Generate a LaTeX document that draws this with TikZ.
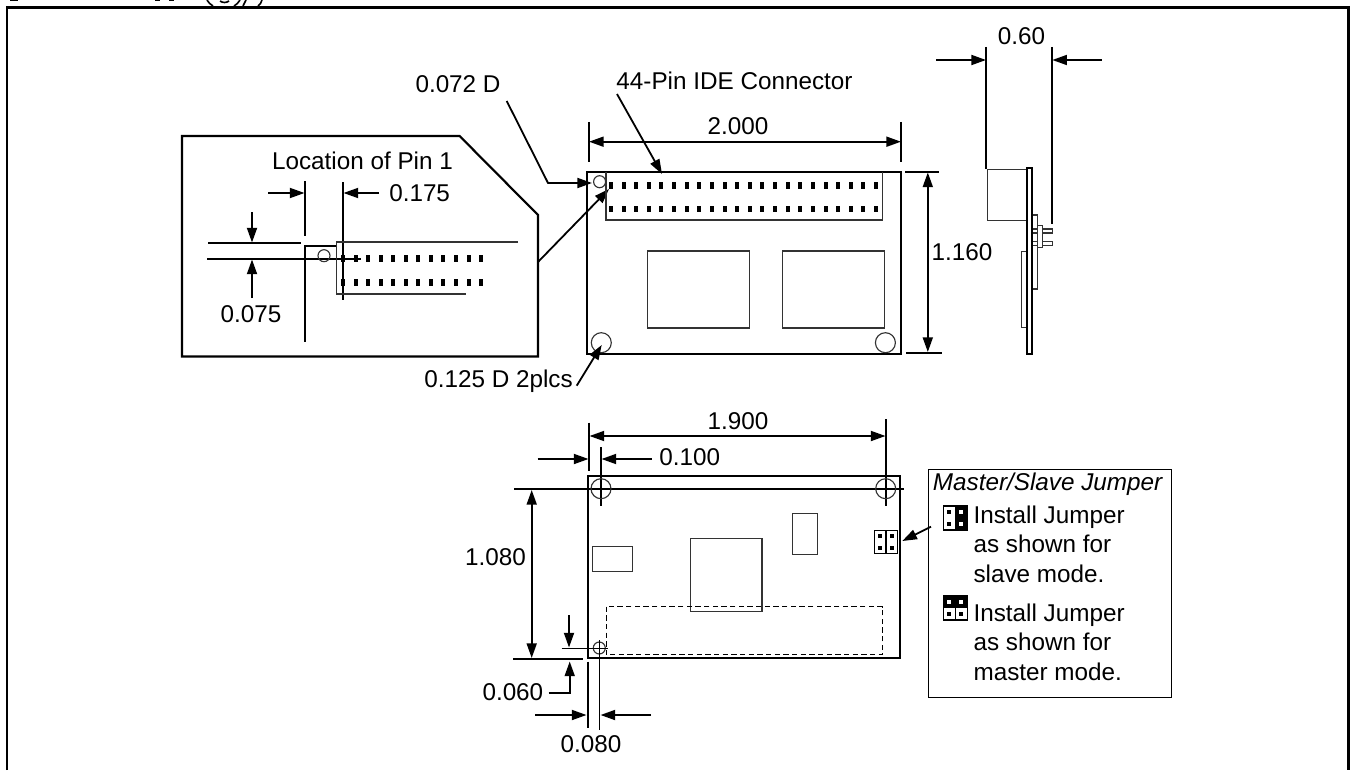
\documentclass[tikz,border=0pt]{standalone}
\usepackage{fontspec}
\setmainfont{Liberation Sans}
\usetikzlibrary{arrows.meta,calc}
\tikzset{
dim/.style={black,line width=1.35pt},
leader/.style={dim,-{Triangle[length=11pt,width=7.5pt]}},
span/.style={dim,{Triangle[length=11pt,width=7.5pt]}-{Triangle[length=11pt,width=7.5pt]}},
plate/.style={draw=black,line width=1.6pt},
part/.style={draw=black!80,line width=0.85pt},
lbl/.style={font=\fontsize{18.2}{22}\selectfont,text=black,inner sep=0pt},
}
% one pin of a connector, at pixel position #1
\newcommand{\pinmark}[2][black]{\fill[#1] ($#2+(-2,-3.4)$) rectangle ($#2+(2,3.4)$);}
\begin{document}
\begin{tikzpicture}[x=0.75pt,y=-0.75pt]
\useasboundingbox (0,0) rectangle (1351,770);
% cut off heading above the frame
\draw[line width=1.2pt] (207,0) .. controls (209,3) and (211,5) .. (213,6);
\draw[line width=1.2pt] (220,1) .. controls (223,3) and (226,3) .. (229,1);
\draw[line width=1.2pt] (234,6) .. controls (236,5) and (238,3) .. (240,0);
\draw[line width=1.2pt] (246,0) -- (243,6);
\draw[line width=1.2pt] (258,6) .. controls (260,5) and (261,3) .. (262,0);
\draw[line width=1pt] (10,0.5) -- (18,0.5) (155,0.5) -- (160,0.5) (169,0.5) -- (174,0.5);
% outer frame
\draw[plate,line width=1.75pt] (7.3,770) -- (7.3,7.5) -- (1348.5,7.5) -- (1348.5,770);

% inset
\draw[plate] (182,136) -- (459.6,136) -- (538,215) -- (538,356.5) -- (182,356.5) -- cycle;
\node[lbl] (pintitle) at (362.5,160.5) {Location of Pin 1};
\draw[dim] (305,181) -- (305,236);
\draw[dim] (343,182) -- (343,300);
\coordinate (ie) at (268,193); \coordinate (ief) at (304.5,193);
\draw[leader] (ie) -- (ief);
\coordinate (ig) at (379,193); \coordinate (igf) at (343.5,193);
\draw[leader] (ig) -- (igf);
\node[lbl,anchor=west] (insa) at (389,193.5) {0.175};
\draw[dim,line width=1.5pt] (208,243) -- (301,243);
\draw[dim] (207,258.7) -- (361,258.7);
\coordinate (ih) at (252,212); \coordinate (ihf) at (252,242.5);
\draw[leader] (ih) -- (ihf);
\coordinate (ii) at (252,298); \coordinate (iif) at (252,259.5);
\draw[leader] (ii) -- (iif);
\node[lbl] (insb) at (251,314) {0.075};
\draw[dim] (336.8,246) -- (304.6,246) -- (304.6,342);
\draw[part] (518,242) -- (336.6,242) -- (336.6,294) -- (466,294);
\draw[part] (324,255.7) circle (6);
\foreach \i in {0,...,11} {
\pinmark{(343+12.55*\i,258.7)}
\pinmark{(343+12.55*\i,282.5)}
}

% inset to board
\coordinate (la) at (538,262); \coordinate (lb) at (609,189);
\draw[leader] (la) -- (lb);

% main board, top view
\draw[plate] (587,172) rectangle (901,354);
\draw[part] (606,172) -- (606,220) -- (882.7,220) -- (882.7,172);
\foreach \i in {0,...,21} {
\pinmark{(611+12.62*\i,185.5)}
\pinmark{(611+12.62*\i,209)}
}
\draw[part] (599.6,181.7) circle (6);
\draw[part] (647.5,251) rectangle (749.4,328);
\draw[part] (782.5,251) rectangle (884.4,328);
\draw[part] (601.3,342.7) circle (10);
\draw[part] (885.4,342.7) circle (10);
\draw[dim] (588.6,122) -- (588.6,162);
\draw[dim] (901,122) -- (901,162);
\coordinate (wa) at (589,141.7); \coordinate (wb) at (901,141.7);
\draw[span] (wa) -- (wb);
\node[lbl] (widthlbl) at (738,126.5) {2.000};
\node[lbl] (conn) at (734.5,80.5) {44-Pin IDE Connector};
\coordinate (ca) at (617,94); \coordinate (cb) at (662,174);
\draw[leader] (ca) -- (cb);
\draw[dim] (905.4,172) -- (938.8,172);
\draw[dim] (906,352.7) -- (941.5,352.7);
\coordinate (ha) at (927.8,172.5); \coordinate (hb) at (927.8,352);
\draw[span] (ha) -- (hb);
\node[lbl] (heightlbl) at (962,252.5) {1.160};
\node[lbl,anchor=east] (holes) at (573,381.7) {0.125 D 2plcs};
\node[lbl] (pinhole) at (458,84) {0.072 D};
\coordinate (pa) at (506.7,101); \coordinate (pb) at (592,183);
\draw[leader] (pa) -- (548,183) -- (pb);
\coordinate (na) at (576.7,385.7); \coordinate (nb) at (601.7,345);
\draw[leader] (na) -- (nb);

% side view
\draw[dim] (986.3,47) -- (986.3,169);
\draw[dim] (1052,47) -- (1052,224);
\node[lbl] (sidelbl) at (1021.5,36) {0.60};
\coordinate (sa) at (936,60); \coordinate (sb) at (986,60);
\draw[leader] (sa) -- (sb);
\coordinate (sc) at (1101.7,60); \coordinate (sd) at (1052.3,60);
\draw[leader] (sc) -- (sd);
\draw[part] (987.3,169.7) rectangle (1027,220.3);
\draw[part] (1021.3,251.3) rectangle (1027,327.3);
\draw[part] (1032,215) rectangle (1037.7,289);
\draw[part] (1032,229) rectangle (1052.3,233);
\draw[part] (1032,241.3) rectangle (1052.3,245.3);
\draw[part,fill=white] (1037.3,225.7) rectangle (1042.3,247.7);
\draw[plate] (1027,167.7) rectangle (1032,354.3);

% main board, bottom view
\draw[plate] (588,476.3) rectangle (900,658.3);
\draw[dim] (589,422.7) -- (589,470.7);
\draw[dim] (886,419) -- (886,505.7);
\draw[dim] (601,447.3) -- (601,505.7);
\coordinate (ba) at (589.5,436); \coordinate (bb) at (885.5,436);
\draw[span] (ba) -- (bb);
\node[lbl] (spanlbl) at (738,420.7) {1.900};
\coordinate (bc) at (537.7,459); \coordinate (bd) at (588.5,459);
\draw[leader] (bc) -- (bd);
\coordinate (be) at (651.7,459); \coordinate (bf) at (601.5,459);
\draw[leader] (be) -- (bf);
\node[lbl,anchor=west] (marginlbl) at (659,456.7) {0.100};
\draw[dim] (514,488.7) -- (904,488.7);
\draw[part] (601,488.7) circle (10);
\draw[part] (885.7,488.7) circle (10);
\coordinate (bg) at (531.7,490); \coordinate (bh) at (531.7,658);
\draw[span] (bg) -- (bh);
\draw[dim] (513,659.3) -- (583.3,659.3);
\node[lbl] (spanyl) at (495.5,556.7) {1.080};
\draw[part] (592.7,546.7) rectangle (632.7,571.7);
\draw[part] (690.3,538.7) rectangle (762,611.7);
\draw[part] (792.7,513.3) rectangle (817.3,554.3);
\draw[part,black,line width=0.6pt,dash pattern=on 4pt off 2.5pt] (606,606.7) rectangle (882.7,654.7);
\draw[part,black] (874.3,530.3) rectangle (897.7,553.7);
\draw[part,black] (886,530.3) -- (886,553.7);
\foreach \px in {880,891.7} \foreach \py in {536,547.7} {
\fill (\px-2,\py-2) rectangle (\px+2,\py+2);
}
\draw[part] (599.3,648) circle (6);
\draw[dim,line width=1pt] (561.7,648.3) -- (607.7,648.3);
\draw[dim,line width=1pt] (599.3,640) -- (599.3,730);
\coordinate (bi) at (569,615); \coordinate (bj) at (569,647.5);
\draw[leader] (bi) -- (bj);
\coordinate (bk) at (548.7,692.7); \coordinate (bp) at (569.7,661.5);
\draw[leader] (bk) -- (569.7,692.7) -- (bp);
\node[lbl,anchor=east] (edgelbl) at (543.5,691.7) {0.060};
\draw[dim] (588,661.7) -- (588,728);
\coordinate (bl) at (535,715); \coordinate (bm) at (586.5,715);
\draw[leader] (bl) -- (bm);
\coordinate (bn) at (651,715); \coordinate (bo) at (600.5,715);
\draw[leader] (bn) -- (bo);
\node[lbl] (edgexl) at (591,744.3) {0.080};

% jumper key
\node[draw=black,line width=0.7pt,minimum width=182.2pt,minimum height=171.2pt,inner sep=0pt] (keybox) at (1050.3,583.2) {};
\node[lbl,anchor=west,font=\fontsize{18.2}{22}\selectfont\itshape] (keytitle) at (932.7,484) {Master/Slave Jumper};
\node[lbl,anchor=base west] (sa1) at (973.3,523.3) {Install Jumper};
\node[lbl,anchor=base west] (sa2) at (973.3,552.7) {as shown for};
\node[lbl,anchor=base west] (sa3) at (973.3,582.3) {slave mode.};
\node[lbl,anchor=base west] (ma1) at (973.3,621) {Install Jumper};
\node[lbl,anchor=base west] (ma2) at (973.3,650.7) {as shown for};
\node[lbl,anchor=base west] (ma3) at (973.3,680) {master mode.};
\coordinate (kf) at (931,526.7); \coordinate (kt) at (902.3,541);
\draw[leader] (kf) -- (kt);
% slave icon
\draw[part,black,fill=white] (943.3,506) rectangle (967.3,530);
\fill (955.3,506) rectangle (967.3,530);
\fill (947.3,510) rectangle (951.3,514);
\fill (947.3,522) rectangle (951.3,526);
\fill[white] (959,510) rectangle (963,514);
\fill[white] (959,522) rectangle (963,526);
% master icon
\draw[part,black,fill=white] (943.3,596) rectangle (967.3,620);
\fill (943.3,596) rectangle (967.3,607.7);
\draw[part,black] (955.3,607.7) -- (955.3,620);
\fill[white] (947.3,600.3) rectangle (951.3,604.3);
\fill[white] (959,600.3) rectangle (963,604.3);
\fill (947.3,612.3) rectangle (951.3,616.3);
\fill (959,612.3) rectangle (963,616.3);
\end{tikzpicture}
\end{document}
